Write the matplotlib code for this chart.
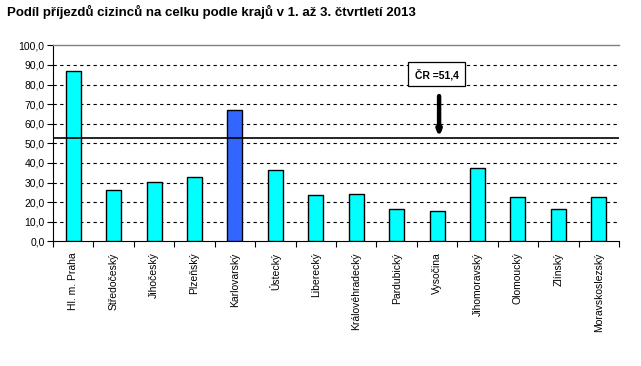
import matplotlib
matplotlib.use("Agg")
import matplotlib.pyplot as plt
import numpy as np

plt.rcParams['font.family'] = ['Liberation Sans', 'DejaVu Sans']

title = "Podíl příjezdů cizinců na celku podle krajů v 1. až 3. čtvrtletí 2013"
regions = ["Hl. m. Praha", "Středočeský", "Jihočeský", "Plzeňský", "Karlovarský",
           "Ústecký", "Liberecký", "Královéhradecký", "Pardubický", "Vysočina",
           "Jihomoravský", "Olomoucký", "Zlínský", "Moravskoslezský"]
values = [86.7, 26.0, 30.1, 32.8, 66.8, 36.2, 23.6, 24.0, 16.3, 15.3, 37.2, 22.4, 16.3, 22.4]
highlight = "Karlovarský"
cr_line = 52.6
cr_label = "ČR =51,4"
yticks = np.arange(0, 101, 10)

fig = plt.figure(figsize=(6.41, 3.66), dpi=100)
ax = fig.add_axes([53/641, 1-241.3/366, (619-53)/641, (241.3-45.3)/366])

x = np.arange(len(regions))
colors = ['#3366FF' if r == highlight else '#00FFFF' for r in regions]
ax.bar(x, values, width=0.37, color=colors, edgecolor='black', linewidth=1, zorder=3)

ax.set_xlim(-0.5, len(regions) - 0.5)
ax.set_ylim(0, 100)
ax.set_yticks(yticks)
ax.set_yticklabels([f"{v:.1f}".replace('.', ',') for v in yticks], fontsize=7.5)
for v in yticks[1:-1]:
    ax.axhline(v, color='black', linestyle=(0, (3, 3)), linewidth=0.8, zorder=1)

ax.axhline(cr_line, color='black', linewidth=1.2, zorder=4)

ax.set_xticks(x)
ax.set_xticklabels(regions, rotation=90, fontsize=7.5)
ax.set_xticks(np.arange(-0.5, len(regions)), minor=True)
ax.tick_params(axis='x', which='major', length=0, pad=8)
ax.tick_params(axis='x', which='minor', length=4, direction='out', width=0.8)
ax.tick_params(axis='y', length=4, direction='out', width=0.8, pad=2)

ax.spines['right'].set_visible(False)
ax.spines['top'].set_color('#808080')
ax.spines['top'].set_linewidth(1)
ax.spines['left'].set_linewidth(0.8)
ax.spines['bottom'].set_linewidth(0.8)

ax.annotate('', xy=(9.05, cr_line + 0.5), xytext=(9.05, 74.1),
            arrowprops=dict(arrowstyle='-|>,head_width=0.12,head_length=0.3',
                            color='black', lw=3.2, shrinkA=0, shrinkB=0), zorder=5)
ax.text(8.99, 85.2, cr_label, ha='center', va='center', fontsize=7.5, fontweight='bold',
        bbox=dict(boxstyle='square,pad=0.6', facecolor='white', edgecolor='black', linewidth=0.9),
        zorder=6)

fig.text(7/641, 1-12/366, title, fontsize=9.5, fontweight='bold', ha='left', va='center')

fig.savefig('out.png', dpi=100)
